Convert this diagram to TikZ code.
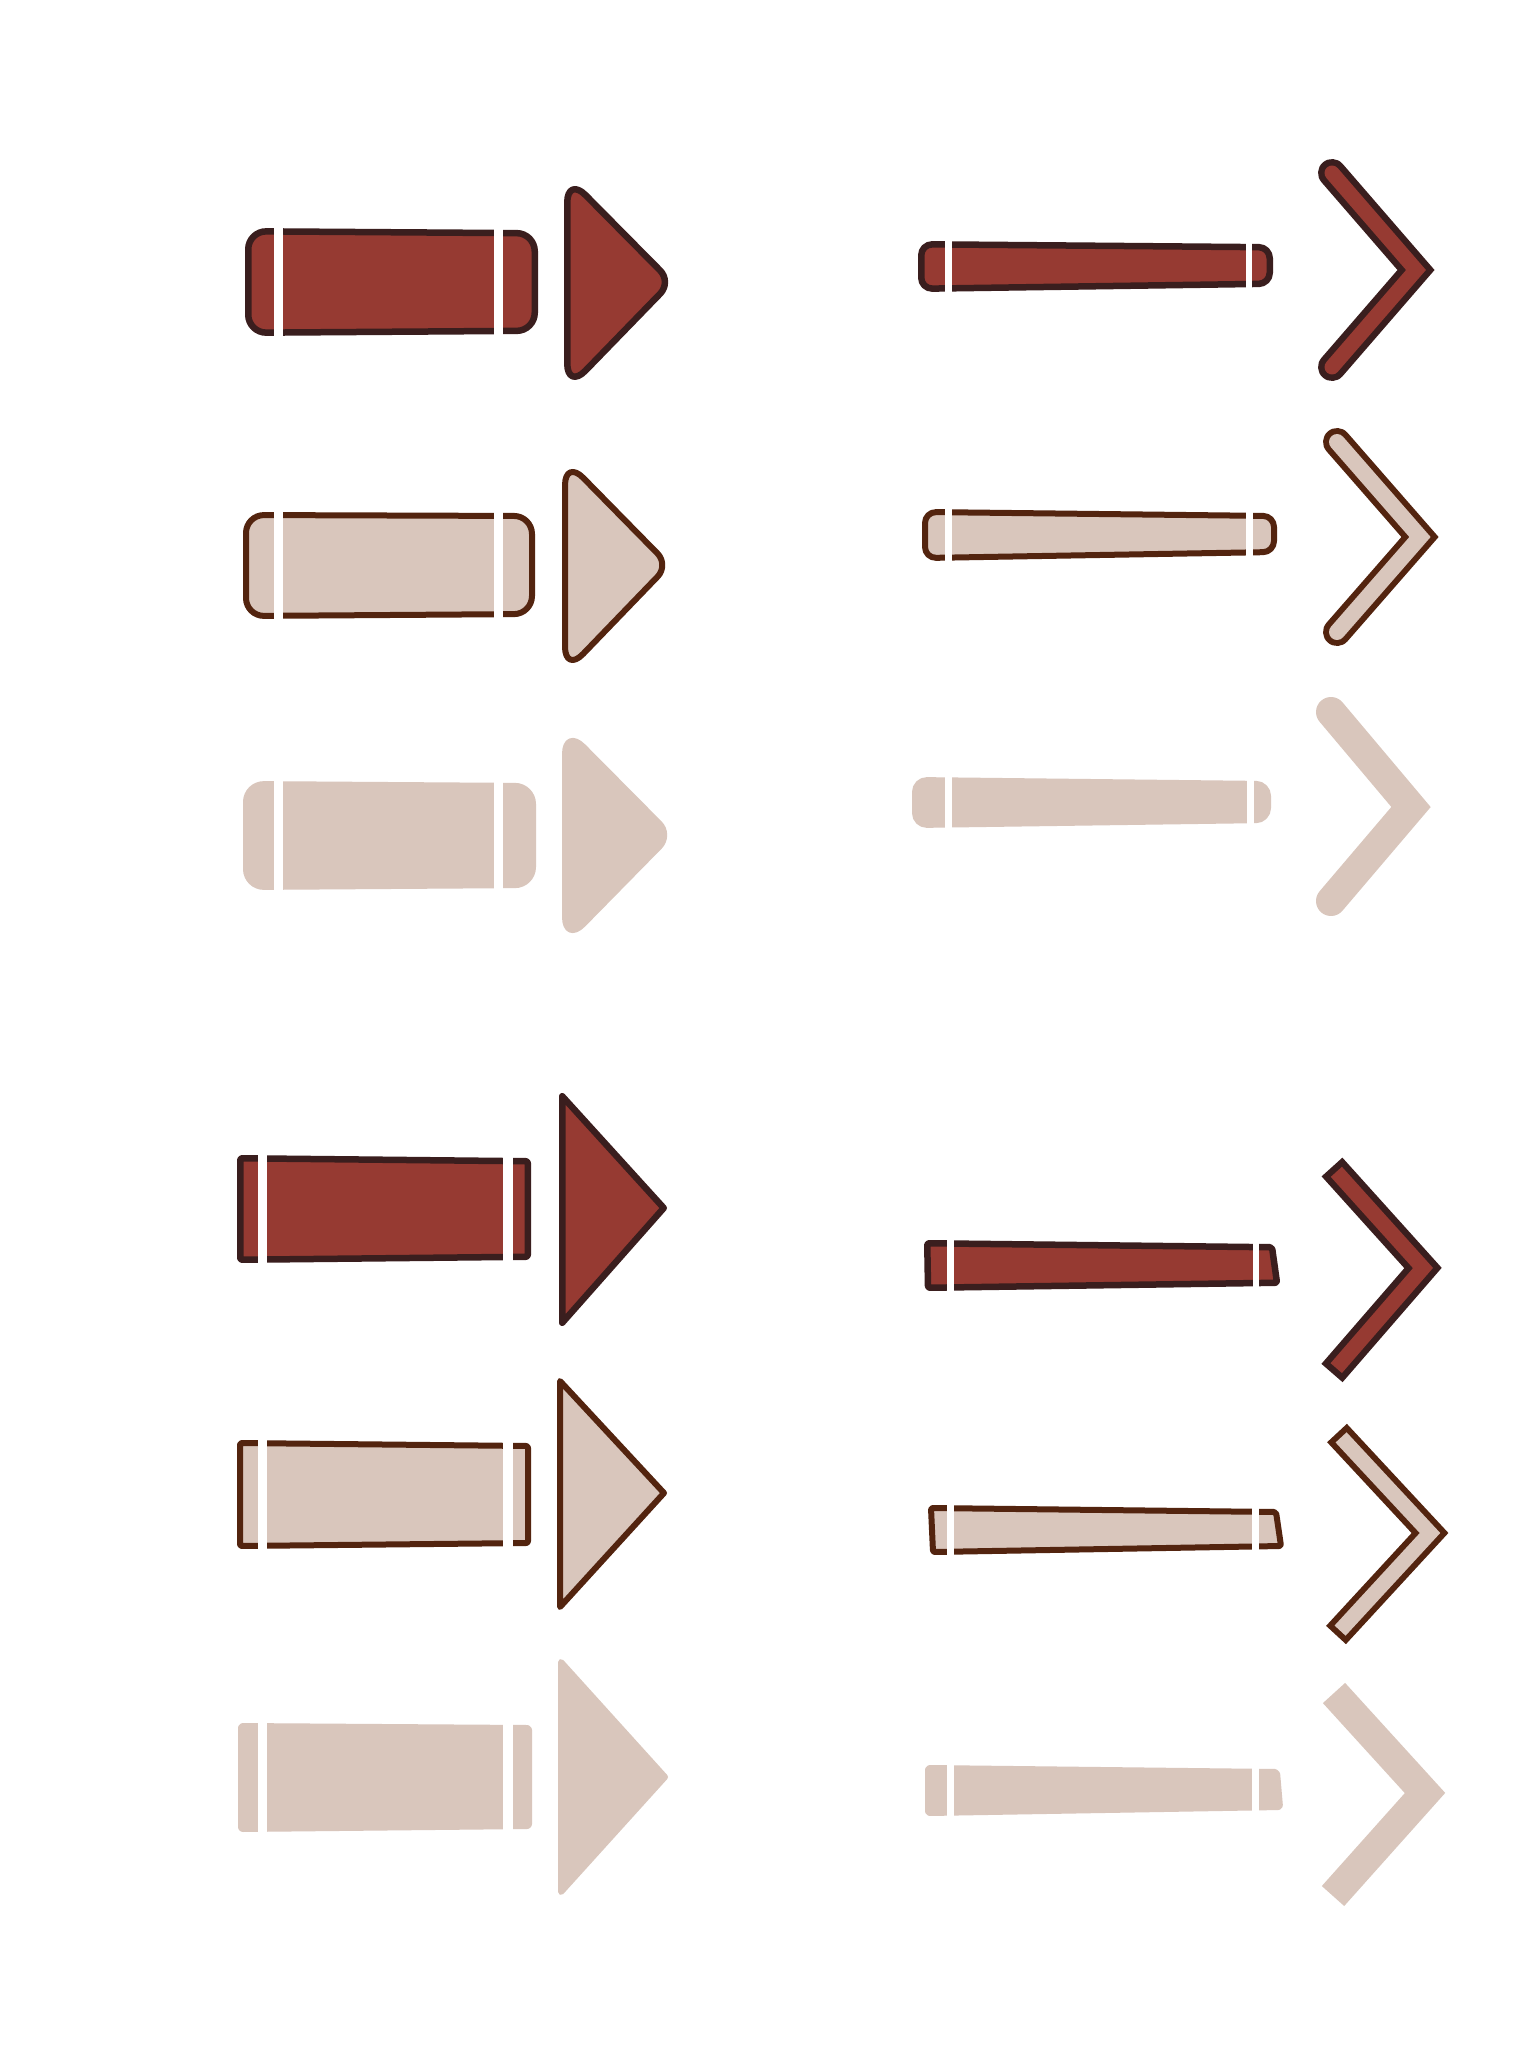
\documentclass[tikz,border=0pt]{standalone}
\usetikzlibrary{calc}
\definecolor{redf}{HTML}{963A32}
\definecolor{darkA}{HTML}{3A1E1E}
\definecolor{darkB}{HTML}{53240F}
\definecolor{lightf}{HTML}{D9C6BC}
\tikzset{
  shpA/.style={draw=darkA, fill=redf, line width=6.5, line join=round},
  shpB/.style={draw=darkB, fill=lightf, line width=6, line join=round},
  shpC/.style={draw=lightf, fill=lightf, line width=6, line join=round},
  gapcut/.style={fill=white},
  chevA/.style={line width=28, darkA, line join=miter},
  chevAin/.style={line width=15, redf, line join=miter},
  chevB/.style={line width=28, darkB, line join=miter},
  chevBin/.style={line width=16, lightf, line join=miter},
  chevC/.style={line width=30, lightf, line join=miter},
}
% rounded triangle: #1 style, #2 top-left, #3 tip, #4 bottom-left,
% #5 base corner length, #6 its control length, #7 tip corner length, #8 its control length
\newcommand\myroundtri[8]{%
  \draw[#1] ($(#2)!#5!(#4)$)
    -- ($(#4)!#5!(#2)$) .. controls ($(#4)!#6!(#2)$) and ($(#4)!#6!(#3)$) .. ($(#4)!#5!(#3)$)
    -- ($(#3)!#7!(#4)$) .. controls ($(#3)!#8!(#4)$) and ($(#3)!#8!(#2)$) .. ($(#3)!#7!(#2)$)
    -- ($(#2)!#5!(#3)$) .. controls ($(#2)!#6!(#3)$) and ($(#2)!#6!(#4)$) .. ($(#2)!#5!(#4)$)
    -- cycle;}
\begin{document}
\begin{tikzpicture}[x=1pt,y=-1pt]
\useasboundingbox[fill=white] (0,0) rectangle (1536,2048);

% ---------------- left column, rounded arrows ----------------
\coordinate (t1a) at (567.25,176.6);
\coordinate (t1b) at (671.5,282);
\coordinate (t1c) at (567.25,389.4);
\coordinate (t2a) at (565,459.3);
\coordinate (t2b) at (668.8,565);
\coordinate (t2c) at (565,672.7);
\coordinate (t3a) at (565,728.3);
\coordinate (t3b) at (670.8,835);
\coordinate (t3c) at (565,942.7);
% row 1
\draw[shpA, rounded corners=18] (248.25,231.25) -- (534.75,233.25) -- (534.75,330.75) -- (248.25,332.75) -- cycle;
\myroundtri{shpA}{t1a}{t1b}{t1c}{26pt}{11.7pt}{16pt}{7.2pt}
% row 2
\draw[shpB, rounded corners=18] (246,515) -- (532,516) -- (532,614) -- (246,616) -- cycle;
\myroundtri{shpB}{t2a}{t2b}{t2c}{26pt}{11.7pt}{16pt}{7.2pt}
% row 3
\draw[shpC, rounded corners=18] (246,784) -- (533,786) -- (533,885) -- (246,887) -- cycle;
\myroundtri{shpC}{t3a}{t3b}{t3c}{26pt}{11.7pt}{16pt}{7.2pt}
% gaps rows 1-3
\foreach \ya/\yb in {220/345, 505/627, 773/897}{
  \fill[gapcut] (274,\ya) rectangle (283,\yb);
  \fill[gapcut] (494,\ya) rectangle (503,\yb);
}

% ---------------- left column, square arrows ----------------
% row 4
\draw[shpA, rounded corners=2] (240.25,1158.25) -- (527.75,1161.25) -- (527.75,1256.75) -- (240.25,1259.75) -- cycle;
\draw[shpA] (562.25,1096.25) -- (663.75,1208) -- (562.25,1322.75) -- cycle;
% row 5
\draw[shpB, rounded corners=2] (240,1443) -- (528,1446) -- (528,1543) -- (240,1546) -- cycle;
\draw[shpB] (560,1381) -- (664,1493) -- (560,1607) -- cycle;
% row 6
\draw[shpC, rounded corners=2] (241,1726) -- (529,1728) -- (529,1826) -- (241,1829) -- cycle;
\draw[shpC] (561,1662) -- (665,1777) -- (561,1892) -- cycle;
% gaps rows 4-6
\foreach \ya/\yb in {1148/1270, 1433/1556, 1716/1839}{
  \fill[gapcut] (258,\ya) rectangle (267,\yb);
  \fill[gapcut] (503,\ya) rectangle (513,\yb);
}

% ---------------- right column, rounded bars and chevrons ----------------
% row 1
\draw[shpA, rounded corners=11] (921.25,244.25) -- (1269.75,247.25) -- (1269.75,283.75) -- (921.25,288.75) -- cycle;
\fill[gapcut] (945,234) rectangle (952,300);
\fill[gapcut] (1245.5,234) rectangle (1252,300);
\draw[chevA, line cap=round] (1332,173) -- (1416,270) -- (1332,367);
\draw[chevAin, line cap=round] (1332,173) -- (1416,270) -- (1332,367);
% row 2
\draw[shpB, rounded corners=11] (925,512) -- (1274,516) -- (1274,552) -- (925,558) -- cycle;
\fill[gapcut] (945,502) rectangle (952,568);
\fill[gapcut] (1246,502) rectangle (1253,568);
\draw[chevB, line cap=round] (1337,442) -- (1420,537) -- (1337,632);
\draw[chevBin, line cap=round] (1337,442) -- (1420,537) -- (1337,632);
% row 3
\draw[shpC, rounded corners=12] (915,780) -- (1268,784) -- (1268,820) -- (915,825) -- cycle;
\fill[gapcut] (945,770) rectangle (952,836);
\fill[gapcut] (1247,770) rectangle (1254,836);
\draw[chevC, line cap=round] (1331,712) -- (1411,807) -- (1331,901);

% ---------------- right column, square bars and chevrons ----------------
% row 4
\draw[shpA, rounded corners=2] (927.25,1243.25) -- (1272,1247.25) -- (1277,1282.75) -- (928,1287.75) -- cycle;
\fill[gapcut] (947,1233) rectangle (954,1298);
\fill[gapcut] (1253,1233) rectangle (1259,1298);
\draw[chevA, line cap=butt] (1332,1167) -- (1423,1268) -- (1332,1373);
\draw[chevAin, line cap=butt, shorten <=6.5, shorten >=6.5] (1332,1167) -- (1423,1268) -- (1332,1373);
% row 5
\draw[shpB, rounded corners=2] (931,1508) -- (1276,1512) -- (1281,1546) -- (933,1552) -- cycle;
\fill[gapcut] (947,1498) rectangle (954,1562);
\fill[gapcut] (1252,1498) rectangle (1259,1562);
\draw[chevB, line width=27, line cap=butt] (1337,1433) -- (1430,1533) -- (1336,1635);
\draw[chevBin, line width=15, line cap=butt, shorten <=6, shorten >=6] (1337,1433) -- (1430,1533) -- (1336,1635);
% row 6
\draw[shpC, rounded corners=2] (928,1768) -- (1277,1772) -- (1280,1807) -- (928,1813) -- cycle;
\fill[gapcut] (947,1758) rectangle (954,1823);
\fill[gapcut] (1252,1758) rectangle (1259,1823);
\draw[chevC, line cap=butt] (1334,1693) -- (1425,1793) -- (1333,1896);
\end{tikzpicture}
\end{document}
